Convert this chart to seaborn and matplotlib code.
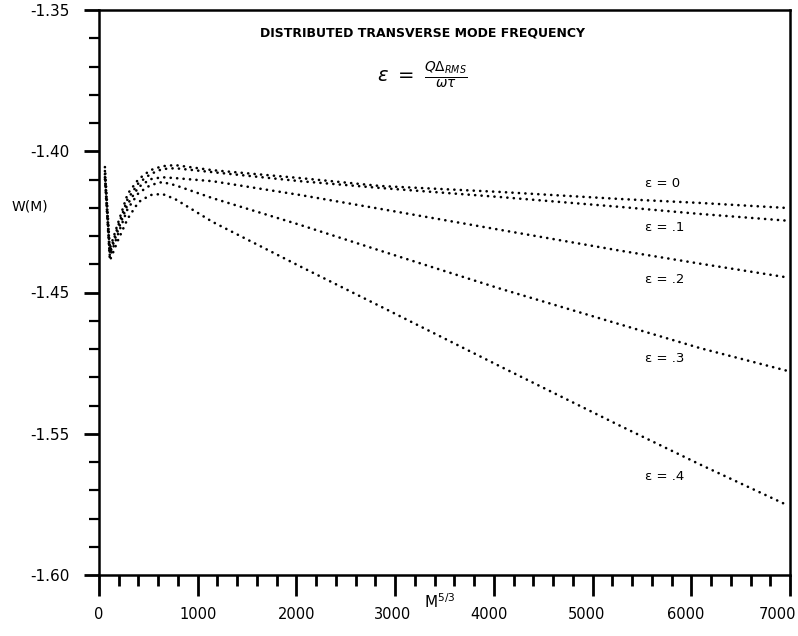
import matplotlib
matplotlib.use("Agg")
import matplotlib.pyplot as plt
from matplotlib.ticker import MultipleLocator, FixedLocator
from matplotlib.transforms import ScaledTranslation
import seaborn as sns
import pandas as pd

# ---- data ----
m53 = [60, 110, 190, 290, 400, 520, 640, 770, 1150, 2040, 2850, 4060, 5280, 6090, 6980]
w_eps0 = [-1.4056, -1.4345, -1.4257, -1.4151, -1.4099, -1.4067, -1.4053, -1.4049,
          -1.4067, -1.4095, -1.4123, -1.4144, -1.4169, -1.4183, -1.4201]
w_eps1 = [-1.4070, -1.4356, -1.4268, -1.4169, -1.4113, -1.4081, -1.4063, -1.4060,
          -1.4074, -1.4106, -1.4130, -1.4162, -1.4197, -1.4222, -1.4246]
w_eps2 = [-1.4081, -1.4363, -1.4282, -1.4187, -1.4127, -1.4099, -1.4092, -1.4095,
          -1.4106, -1.4155, -1.4204, -1.4278, -1.4352, -1.4398, -1.4447]
w_eps3 = [-1.4092, -1.4373, -1.4296, -1.4204, -1.4148, -1.4120, -1.4109, -1.4120,
          -1.4166, -1.4261, -1.4352, -1.4486, -1.4613, -1.4697, -1.4778]
w_eps4 = [-1.4099, -1.4387, -1.4317, -1.4239, -1.4180, -1.4155, -1.4151, -1.4169,
          -1.4250, -1.4408, -1.4549, -1.4761, -1.4972, -1.5109, -1.5254]
series_names = ["\u03b5 = 0", "\u03b5 = .1", "\u03b5 = .2", "\u03b5 = .3", "\u03b5 = .4"]
label_y = [-1.4113, -1.4271, -1.4454, -1.4732, -1.5151]
ytick_pos = [-1.35, -1.40, -1.45, -1.50, -1.55]
ytick_labels = ["-1.35", "-1.40", "-1.45", "-1.55", "-1.60"]
xtick_pos = [0, 1000, 2000, 3000, 4000, 5000, 6000, 7000]
xtick_labels = ["0", "1000", "2000", "3000", "4000", "5000", "6000", "7000"]

rows = []
for name, vals in zip(series_names, [w_eps0, w_eps1, w_eps2, w_eps3, w_eps4]):
    for x, y in zip(m53, vals):
        rows.append({"M": x, "W": y, "eps": name})
df = pd.DataFrame(rows)

sns.set_style("ticks")
plt.rcParams["font.family"] = ["DejaVu Sans"]
plt.rcParams["text.color"] = "black"
plt.rcParams["xtick.color"] = "black"
plt.rcParams["ytick.color"] = "black"
plt.rcParams["xtick.labelcolor"] = "black"
plt.rcParams["ytick.labelcolor"] = "black"

fig = plt.figure(figsize=(7.98, 6.36), dpi=100)
ax = fig.add_axes([99 / 798, 1 - 575 / 636, (790 - 99) / 798, (575 - 10) / 636])

sns.lineplot(data=df, x="M", y="W", hue="eps", palette=["black"] * 5,
             estimator=None, sort=False, legend=False, ax=ax,
             linewidth=1.9, linestyle=(0, (0.05, 2.4)), dash_capstyle="round")

ax.set_xlim(0, 7000)
ax.set_ylim(-1.55, -1.35)

ax.xaxis.set_major_locator(FixedLocator(xtick_pos))
ax.set_xticklabels(xtick_labels)
ax.xaxis.set_minor_locator(MultipleLocator(200))
ax.yaxis.set_major_locator(FixedLocator(ytick_pos))
ax.set_yticklabels(ytick_labels)
ax.yaxis.set_minor_locator(MultipleLocator(0.01))

ax.tick_params(axis="x", which="major", direction="out", length=15, width=2,
               labelsize=10.5, pad=8)
ax.tick_params(axis="x", which="minor", direction="out", length=8, width=2)
ax.tick_params(axis="y", which="major", direction="out", length=11, width=2,
               labelsize=11, pad=10)
ax.tick_params(axis="y", which="minor", direction="out", length=7, width=1.6)

# shift x tick labels slightly left as in the reference
shifts = [0, 0, 0, -3, -5, -6, -6, -13]
for lab, dx in zip(ax.get_xticklabels(), shifts):
    lab.set_transform(lab.get_transform() + ScaledTranslation(dx / 100, 0, fig.dpi_scale_trans))

for sp in ax.spines.values():
    sp.set_linewidth(1.8)
    sp.set_color("black")
    sp.set_visible(True)

ax.set_xlabel("")
ax.set_ylabel("")
fig.text(440 / 798, 1 - 602 / 636, "M$^{5/3}$", ha="center", va="center", fontsize=11)
fig.text(30 / 798, 1 - 207 / 636, "W(M)", ha="center", va="center", fontsize=10)

for name, ly in zip(series_names, label_y):
    ax.text(5530, ly, name, ha="left", va="center", fontsize=9.5)

ax.text(0.468, 0.96, "DISTRIBUTED TRANSVERSE MODE FREQUENCY", transform=ax.transAxes,
        ha="center", va="center", fontsize=9, fontweight="bold")
ax.text(0.468, 0.885, r"$\epsilon\ =\ \frac{Q\Delta_{RMS}}{\omega\tau}$", transform=ax.transAxes,
        ha="center", va="center", fontsize=14)

fig.savefig("out.png", dpi=100, facecolor="white")
